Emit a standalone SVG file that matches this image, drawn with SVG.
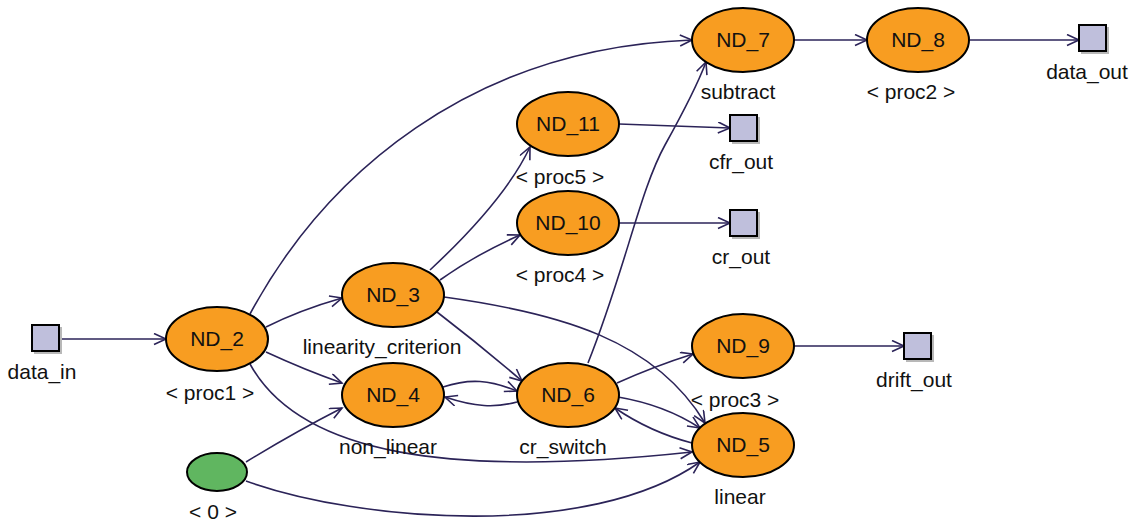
<svg xmlns="http://www.w3.org/2000/svg" width="1137" height="528" viewBox="0 0 1137 528">
<defs>
<marker id="arr" markerUnits="userSpaceOnUse" markerWidth="16" markerHeight="14" refX="13" refY="6" orient="auto">
<path d="M1,0.5 L13,6 L1,11.5" fill="none" stroke="#2b2358" stroke-width="1.6"/>
</marker>
</defs>
<style>
text{font-family:"Liberation Sans",Arial,sans-serif;font-size:21px;fill:#111;text-anchor:middle}
.nd{fill:#f89d21;stroke:#000;stroke-width:2}
.port{fill:#bfbfdc;stroke:#000;stroke-width:2}
.sh{fill:#b8b8b8}
.green{fill:#60b660;stroke:#000;stroke-width:2}
#edges path{fill:none;stroke:#2b2358;stroke-width:1.6;marker-end:url(#arr)}
</style>
<rect width="1137" height="528" fill="#fff"/>
<g id="edges">
<path d="M60,339 L166,339"/>
<path d="M250,314 C325,175 470,48 692,40"/>
<path d="M266,327 Q300,310 342,298"/>
<path d="M266,352 Q305,370 342,383"/>
<path d="M250,364 C300,455 450,478 692,452"/>
<path d="M246,462 Q295,432 342,408"/>
<path d="M246,481 C360,522 590,540 700,462"/>
<path d="M430,270 Q505,200 530,147"/>
<path d="M440,280 Q475,255 520,235"/>
<path d="M437,312 Q480,345 522,381"/>
<path d="M444,297 C560,313 655,340 705,423"/>
<path d="M443,387 C470,378 490,380 517,391"/>
<path d="M517,402 C495,408 475,407 445,397"/>
<path d="M588,363 C625,270 640,190 665,145 S700,78 706,62"/>
<path d="M617,383 Q655,366 693,354"/>
<path d="M618,397 Q665,405 700,428"/>
<path d="M692,443 Q650,432 615,408"/>
<path d="M794,40 L867,40"/>
<path d="M970,40 L1079,40"/>
<path d="M619,124 Q680,126 730,128"/>
<path d="M619,223 L730,223"/>
<path d="M794,346 L904,346"/>
</g>
<g id="data_in"><rect class="sh" x="34" y="327" width="28" height="27"/><rect class="port" x="32" y="325" width="27" height="26"/><text x="42" y="379">data_in</text></g>
<g id="ND_2"><ellipse class="nd" cx="217" cy="339" rx="51" ry="32"/><text x="217" y="346">ND_2</text><text x="210" y="400">&lt; proc1 &gt;</text></g>
<g id="const0"><ellipse class="green" cx="217" cy="472" rx="30" ry="19"/><text x="213" y="519">&lt; 0 &gt;</text></g>
<g id="ND_3"><ellipse class="nd" cx="393" cy="295" rx="51" ry="32"/><text x="393" y="302">ND_3</text><text x="382" y="354">linearity_criterion</text></g>
<g id="ND_4"><ellipse class="nd" cx="393" cy="395" rx="51" ry="32"/><text x="393" y="402">ND_4</text><text x="388" y="454">non_linear</text></g>
<g id="ND_6"><ellipse class="nd" cx="568" cy="395" rx="51" ry="32"/><text x="568" y="402">ND_6</text><text x="563" y="454">cr_switch</text></g>
<g id="ND_9"><ellipse class="nd" cx="743" cy="346" rx="51" ry="32"/><text x="743" y="353">ND_9</text><text x="735" y="407">&lt; proc3 &gt;</text></g>
<g id="ND_5"><ellipse class="nd" cx="743" cy="445" rx="51" ry="32"/><text x="743" y="452">ND_5</text><text x="740" y="504">linear</text></g>
<g id="drift_out"><rect class="sh" x="906" y="335" width="28" height="27"/><rect class="port" x="904" y="333" width="27" height="26"/><text x="914" y="387">drift_out</text></g>
<g id="ND_11"><ellipse class="nd" cx="568" cy="124" rx="51" ry="32"/><text x="568" y="131">ND_11</text><text x="560" y="184">&lt; proc5 &gt;</text></g>
<g id="cfr_out"><rect class="sh" x="732" y="117" width="28" height="27"/><rect class="port" x="730" y="115" width="27" height="26"/><text x="741" y="169">cfr_out</text></g>
<g id="ND_10"><ellipse class="nd" cx="568" cy="223" rx="51" ry="32"/><text x="568" y="230">ND_10</text><text x="560" y="282">&lt; proc4 &gt;</text></g>
<g id="cr_out"><rect class="sh" x="732" y="212" width="28" height="27"/><rect class="port" x="730" y="210" width="27" height="26"/><text x="741" y="264">cr_out</text></g>
<g id="ND_7"><ellipse class="nd" cx="743" cy="40" rx="51" ry="32"/><text x="743" y="47">ND_7</text><text x="738" y="99">subtract</text></g>
<g id="ND_8"><ellipse class="nd" cx="918" cy="40" rx="51" ry="32"/><text x="918" y="47">ND_8</text><text x="911" y="99">&lt; proc2 &gt;</text></g>
<g id="data_out"><rect class="sh" x="1081" y="27" width="28" height="27"/><rect class="port" x="1079" y="25" width="27" height="26"/><text x="1087" y="79">data_out</text></g>
</svg>
